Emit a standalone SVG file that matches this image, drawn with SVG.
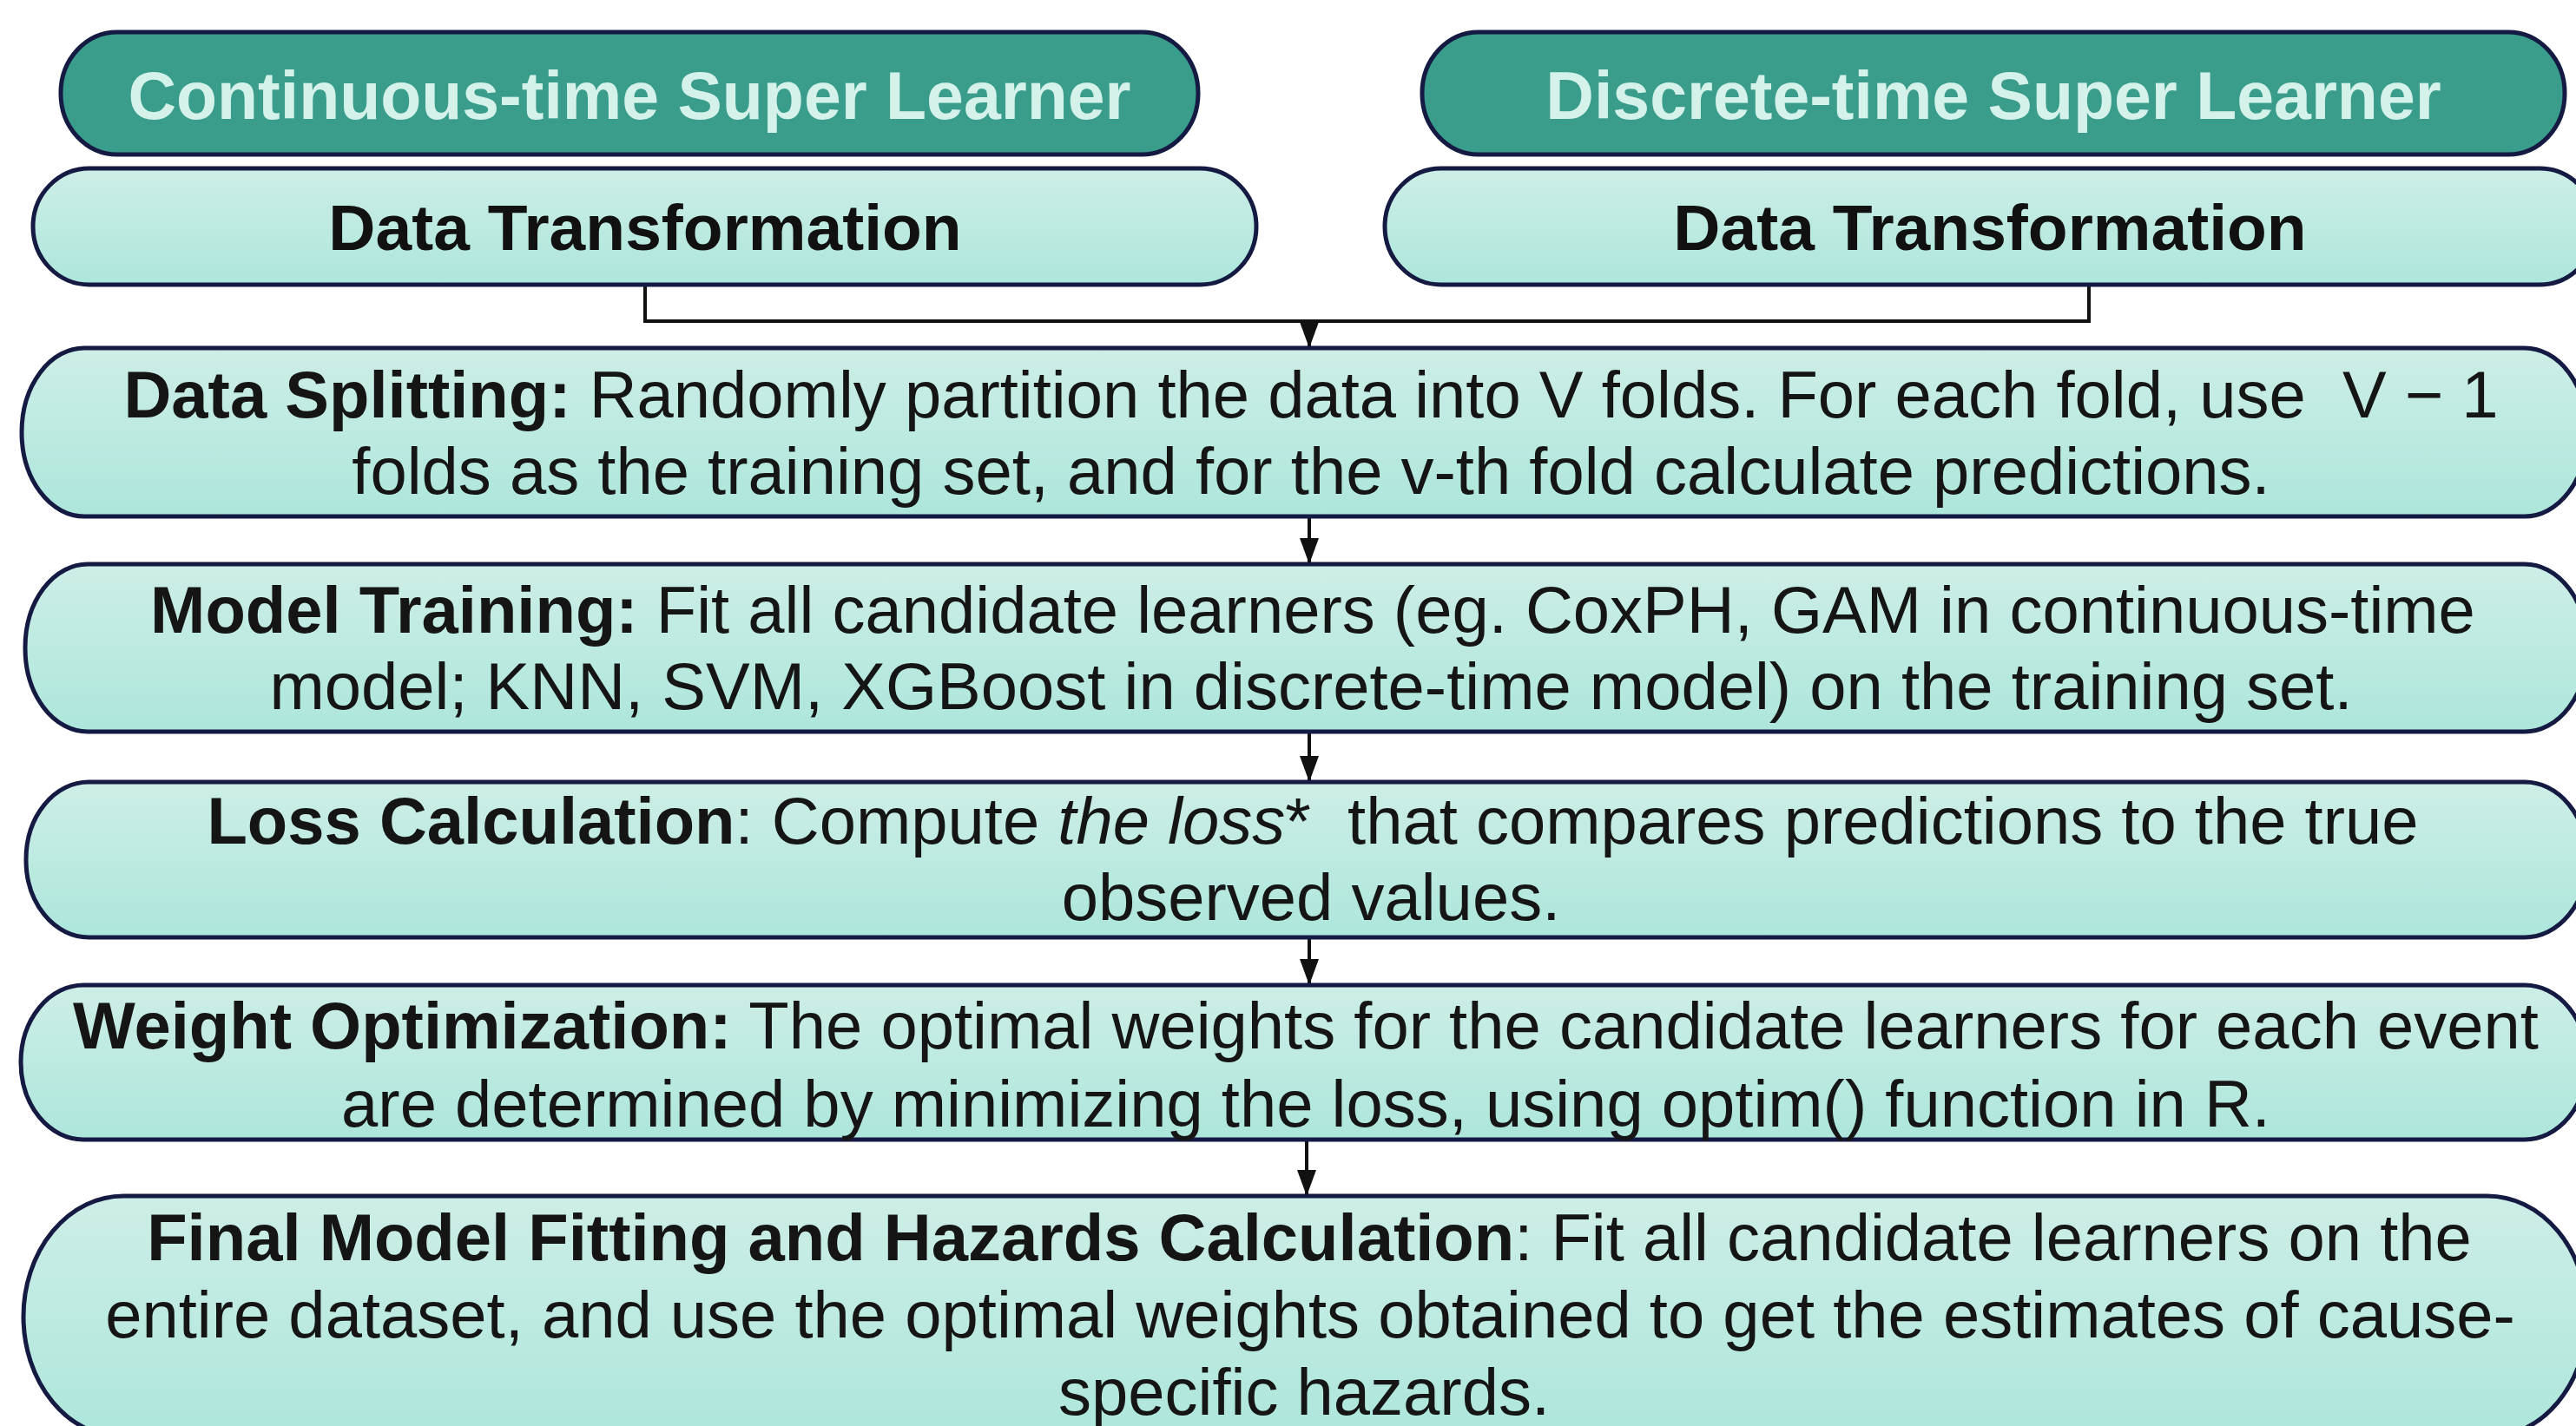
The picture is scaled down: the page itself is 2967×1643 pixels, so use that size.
<svg xmlns="http://www.w3.org/2000/svg" width="2967" height="1643" viewBox="0 0 2967 1643">
  <defs>
    <linearGradient id="paleFill" x1="0" y1="0" x2="0" y2="1">
      <stop offset="0" stop-color="#cdeee7"/>
      <stop offset="1" stop-color="#ade6db"/>
    </linearGradient>
    <marker id="arrowHead" viewBox="0 0 30 22" refX="30" refY="11" markerWidth="30" markerHeight="22" markerUnits="userSpaceOnUse" orient="auto">
      <path d="M0,0 L30,11 L0,22 z" fill="#111111"/>
    </marker>
    <style>
      .header { fill: #3a9d8c; stroke: #141a42; stroke-width: 5; }
      .step { fill: url(#paleFill); stroke: #141a42; stroke-width: 5; }
      .headText { font-family: "Liberation Sans", Arial, sans-serif; font-weight: bold; font-size: 77px; fill: #d4f2e9; text-anchor: middle; }
      .dtText { font-family: "Liberation Sans", Arial, sans-serif; font-weight: bold; font-size: 75px; fill: #111111; text-anchor: middle; }
      .body { font-family: "Liberation Sans", Arial, sans-serif; font-size: 76px; fill: #151515; text-anchor: middle; }
      .b { font-weight: bold; }
      .i { font-style: italic; }
      .wire { fill: none; stroke: #111111; stroke-width: 4; }
    </style>
  </defs>

  <rect width="2967" height="1643" fill="#ffffff"/>

  <!-- connectors -->
  <g id="connectors">
    <polyline class="wire" points="743,328 743,370 2406,370 2406,330"/>
    <line class="wire" x1="1508" y1="370" x2="1508" y2="401" marker-end="url(#arrowHead)"/>
    <line class="wire" x1="1508" y1="595" x2="1508" y2="650" marker-end="url(#arrowHead)"/>
    <line class="wire" x1="1508" y1="843" x2="1508" y2="901" marker-end="url(#arrowHead)"/>
    <line class="wire" x1="1508" y1="1080" x2="1508" y2="1135" marker-end="url(#arrowHead)"/>
    <line class="wire" x1="1505" y1="1313" x2="1505" y2="1378" marker-end="url(#arrowHead)"/>
  </g>

  <!-- two model families -->
  <g id="continuous-header">
    <rect class="header" x="70" y="37" width="1310" height="141" rx="65" ry="70"/>
    <text class="headText" x="725" y="137">Continuous-time Super Learner</text>
  </g>
  <g id="discrete-header">
    <rect class="header" x="1638" y="37" width="1316" height="141" rx="65" ry="70"/>
    <text class="headText" x="2296" y="137">Discrete-time Super Learner</text>
  </g>

  <g id="transform-continuous">
    <rect class="step" x="38" y="194" width="1409" height="134" rx="65" ry="67"/>
    <text class="dtText" x="743" y="288">Data Transformation</text>
  </g>
  <g id="transform-discrete">
    <rect class="step" x="1595" y="194" width="1395" height="134" rx="65" ry="67"/>
    <text class="dtText" x="2292" y="288">Data Transformation</text>
  </g>

  <!-- shared pipeline -->
  <g id="data-splitting">
    <rect class="step" x="25" y="401" width="2955" height="194" rx="72" ry="97"/>
    <text class="body" x="1510" y="481"><tspan class="b">Data Splitting:</tspan> Randomly partition the data into V folds. For each fold, use&#160; V − 1</text>
    <text class="body" x="1510" y="569">folds as the training set, and for the v-th fold calculate predictions.</text>
  </g>

  <g id="model-training">
    <rect class="step" x="29" y="650" width="2951" height="193" rx="72" ry="96"/>
    <text class="body" x="1512" y="729"><tspan class="b">Model Training:</tspan> Fit all candidate learners (eg. CoxPH, GAM in continuous-time</text>
    <text class="body" x="1510" y="817">model; KNN, SVM, XGBoost in discrete-time model) on the training set.</text>
  </g>

  <g id="loss-calculation">
    <rect class="step" x="30" y="901" width="2950" height="179" rx="72" ry="89"/>
    <text class="body" x="1512" y="972"><tspan class="b">Loss Calculation</tspan>: Compute <tspan class="i">the loss</tspan>*&#160; that compares predictions to the true</text>
    <text class="body" x="1510" y="1060">observed values.</text>
  </g>

  <g id="weight-optimization">
    <rect class="step" x="24" y="1135" width="2956" height="178" rx="72" ry="89"/>
    <text class="body" x="1504" y="1208"><tspan class="b">Weight Optimization:</tspan> The optimal weights for the candidate learners for each event</text>
    <text class="body" x="1504" y="1298">are determined by minimizing the loss, using optim() function in R.</text>
  </g>

  <g id="final-fitting">
    <rect class="step" x="27" y="1378" width="2953" height="278" rx="115" ry="139"/>
    <text class="body" x="1508" y="1452"><tspan class="b">Final Model Fitting and Hazards Calculation</tspan>: Fit all candidate learners on the</text>
    <text class="body" x="1509" y="1541">entire dataset, and use the optimal weights obtained to get the estimates of cause-</text>
    <text class="body" x="1502" y="1630">specific hazards.</text>
  </g>
</svg>
